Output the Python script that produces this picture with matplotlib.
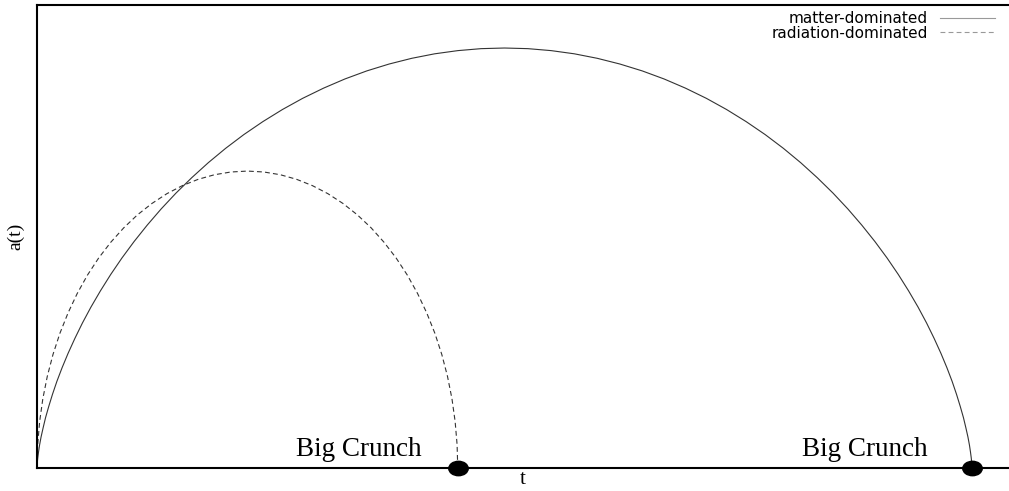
import matplotlib
matplotlib.use("Agg")
import matplotlib.pyplot as plt
from matplotlib.path import Path
from matplotlib.transforms import Affine2D

# scale factor a(t) (t and a in units of the matter curve)
matter_t = [0.0, 0.0, 0.0001, 0.0003, 0.0008, 0.0016, 0.0027, 0.0043, 0.0065, 0.0091,
            0.0125, 0.0165, 0.0212, 0.0268, 0.0332, 0.0405, 0.0486, 0.0577, 0.0678, 0.0788,
            0.0908, 0.1038, 0.1178, 0.1327, 0.1486, 0.1655, 0.1832, 0.2018, 0.2212, 0.2415,
            0.2625, 0.2841, 0.3065, 0.3293, 0.3527, 0.3766, 0.4008, 0.4253, 0.4501, 0.475,
            0.5,
            0.525, 0.5499, 0.5747, 0.5992, 0.6234, 0.6473, 0.6707, 0.6935, 0.7159, 0.7375,
            0.7585, 0.7788, 0.7982, 0.8168, 0.8345, 0.8514, 0.8673, 0.8822, 0.8962, 0.9092,
            0.9212, 0.9322, 0.9423, 0.9514, 0.9595, 0.9668, 0.9732, 0.9788, 0.9835, 0.9875,
            0.9909, 0.9935, 0.9957, 0.9973, 0.9984, 0.9992, 0.9997, 0.9999, 1.0, 1.0]
matter_a = [0.0, 0.0015, 0.0062, 0.0138, 0.0245, 0.0381, 0.0545, 0.0737, 0.0955, 0.1198,
            0.1464, 0.1753, 0.2061, 0.2388, 0.273, 0.3087, 0.3455, 0.3833, 0.4218, 0.4608,
            0.5, 0.5392, 0.5782, 0.6167, 0.6545, 0.6913, 0.727, 0.7613, 0.7939, 0.8247,
            0.8536, 0.8802, 0.9045, 0.9263, 0.9455, 0.9619, 0.9755, 0.9862, 0.9938, 0.9985,
            1.0,
            0.9985, 0.9938, 0.9862, 0.9755, 0.9619, 0.9455, 0.9263, 0.9045, 0.8802, 0.8536,
            0.8247, 0.7939, 0.7613, 0.727, 0.6913, 0.6545, 0.6167, 0.5782, 0.5392, 0.5,
            0.4608, 0.4218, 0.3833, 0.3455, 0.3087, 0.273, 0.2388, 0.2061, 0.1753, 0.1464,
            0.1198, 0.0955, 0.0737, 0.0545, 0.0381, 0.0245, 0.0138, 0.0062, 0.0015, 0.0]

radiation_t = [0.0, 0.0007, 0.0028, 0.0062, 0.011, 0.0171, 0.0245, 0.0332, 0.043, 0.0539,
               0.0659, 0.0789, 0.0928, 0.1074, 0.1229, 0.1389, 0.1555, 0.1725, 0.1898, 0.2073,
               0.225,
               0.2427, 0.2602, 0.2775, 0.2945, 0.3111, 0.3272, 0.3426, 0.3573, 0.3711, 0.3841,
               0.3961, 0.407, 0.4168, 0.4255, 0.4329, 0.439, 0.4438, 0.4472, 0.4493, 0.45]
radiation_a = [0.0, 0.0555, 0.1106, 0.165, 0.2185, 0.2706, 0.321, 0.3694, 0.4156, 0.4592,
               0.5, 0.5376, 0.572, 0.6028, 0.6299, 0.6532, 0.6724, 0.6875, 0.6983, 0.7048,
               0.707,
               0.7048, 0.6983, 0.6875, 0.6724, 0.6532, 0.6299, 0.6028, 0.572, 0.5376, 0.5,
               0.4592, 0.4156, 0.3694, 0.321, 0.2706, 0.2185, 0.165, 0.1106, 0.0555, 0.0]

crunch_t = [radiation_t[-1], matter_t[-1]]
crunch_label = "Big Crunch"

plt.rcParams['lines.scale_dashes'] = False

fig = plt.figure(figsize=(10.09, 4.91), dpi=100)
ax = fig.add_axes([0.0367, 0.0468, 0.9633, 0.943])

line_col = '#333333'
ax.plot(matter_t, matter_a, color=line_col, lw=0.8, label='matter-dominated')
ax.plot(radiation_t, radiation_a, color=line_col, lw=0.8, dashes=(3.5, 2.3),
        label='radiation-dominated')

# black oval dots on the t axis
oval = Path.unit_circle().transformed(Affine2D().scale(1.35, 1.0))
ax.plot(crunch_t, [0, 0], linestyle='none', marker=oval, markersize=14,
        color='black', clip_on=False, zorder=5)

for xt in (0.344, 0.885):
    ax.text(xt, 0.028, crunch_label, ha='center', va='baseline',
            family='Liberation Serif', fontsize=19.5)

ax.set_xlim(0, 1.0396)
ax.set_ylim(0, 1.1024)
ax.set_xticks([])
ax.set_yticks([])
for side in ('left', 'top', 'bottom'):
    ax.spines[side].set_linewidth(1.5)
ax.spines['right'].set_visible(False)

ax.set_xlabel('t', family='Liberation Serif', fontsize=15, labelpad=1.5)
ax.set_ylabel('a(t)', family='Liberation Serif', fontsize=14, labelpad=9)

leg = ax.legend(loc='upper right', bbox_to_anchor=(0.9856, 0.986), frameon=False,
                markerfirst=False, prop={'family': 'DejaVu Sans', 'size': 11},
                handlelength=3.6, handletextpad=0.8, labelspacing=-0.05,
                borderaxespad=0.0, borderpad=0.0)
for t in leg.get_texts():
    t.set_ha('right')
for h in leg.get_lines():
    h.set_color('#999999')

fig.savefig('out.png', dpi=100)
